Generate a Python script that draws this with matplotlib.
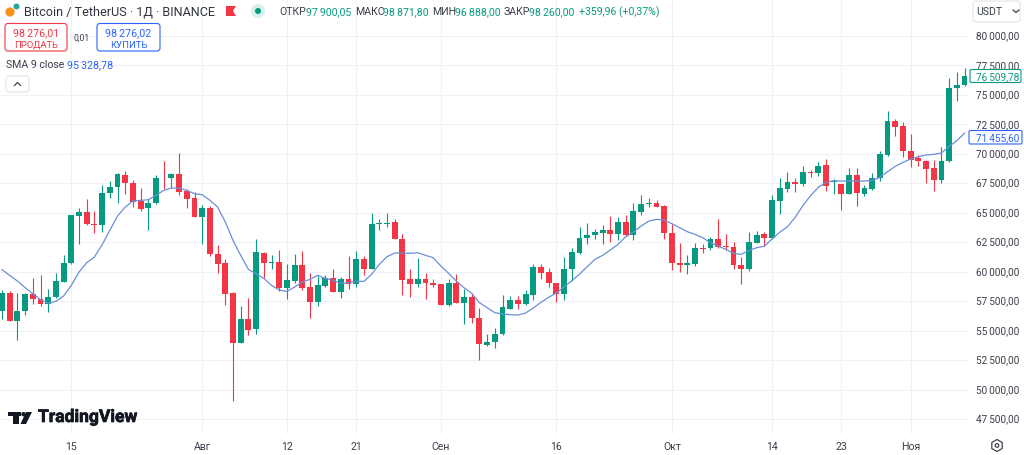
import matplotlib
matplotlib.use('Agg')
import matplotlib.pyplot as plt
import matplotlib.patheffects as pe
from matplotlib.transforms import ScaledTranslation
from matplotlib.patches import FancyBboxPatch, Circle, Polygon, RegularPolygon, Rectangle

plt.rcParams['font.family'] = ['Roboto', 'DejaVu Sans']

GREEN = '#089981'
RED = '#F23645'
BLUE = '#2962FF'
SMA_COLOR = '#6a8fd8'
GRID = '#eff1f6'
TEXT = '#3a3e4a'

# daily candles
opens = [56637, 58220, 55818, 56666, 58079, 57711, 57259, 57824, 59124, 60734,
         64717, 65028, 64068, 63983, 66666, 67147, 68220, 67542, 65960, 65367,
         65791, 67966, 67910, 68305, 66808, 66243, 64604, 65423, 61525, 60734,
         58163, 53982, 56016, 55112, 61610, 60762, 60847, 58587, 59209, 60537,
         58672, 57429, 58785, 59463, 58305, 59406, 58926, 61101, 60254, 64011,
         64068, 64181, 62796, 59350, 58926, 59350, 59068, 58926, 57203, 59068,
         57344, 57881, 56101, 53785, 54039, 54745, 56864, 57598, 57231, 58022,
         60423, 59943, 59068, 58079, 60198, 61610, 62853, 63079, 63277, 63531,
         63220, 64237, 63079, 65085, 65763, 65819, 65537, 63249, 60762, 60536,
         60678, 62034, 61977, 62740, 62175, 62090, 60565, 60198, 62458, 63195,
         62830, 66017, 67005, 67627, 67401, 68418, 68333, 69039, 67599, 67401,
         66610, 68164, 66610, 67005, 67909, 69887, 72740, 72345, 70254, 69633,
         69350, 68757, 67797, 69350, 75537, 75791]
highs = [58418, 58333, 58220, 58220, 59463, 59689, 58502, 59887, 61440, 64830,
         65395, 66158, 65113, 67373, 67655, 68361, 68503, 67796, 67090, 66186,
         68164, 69379, 68390, 70085, 66977, 66751, 65678, 65537, 62231, 61045,
         58276, 57061, 57768, 62740, 61695, 61412, 61808, 60621, 61525, 61751,
         59858, 59632, 59689, 60254, 59548, 61328, 61751, 61328, 64944, 64435,
         65000, 64435, 63220, 60198, 61130, 59858, 59406, 58983, 59406, 59774,
         58503, 58220, 56920, 54745, 55254, 57994, 57937, 57937, 58446, 60621,
         60621, 60339, 59068, 61243, 62034, 63814, 64096, 63588, 63926, 64718,
         64661, 64774, 65791, 66469, 66215, 66045, 65621, 64011, 62401, 61384,
         62401, 62316, 62966, 64435, 63164, 62514, 61271, 63390, 63447, 63339,
         66500, 67909, 68418, 67909, 68983, 68644, 69322, 69548, 67853, 67401,
         68813, 68757, 67344, 68361, 70254, 73644, 72938, 72655, 71667, 69915,
         69463, 69463, 70593, 76413, 76893, 77232]
lows = [56016, 55818, 54236, 56299, 57231, 57061, 56581, 57768, 59124, 60677,
        62372, 63926, 63277, 63361, 66243, 65847, 66610, 65508, 65141, 63503,
        65762, 67034, 67118, 66469, 65395, 64604, 62316, 61299, 59915, 57146,
        49010, 53982, 54603, 54745, 59491, 60198, 58361, 57655, 59068, 58446,
        56045, 57090, 58729, 58305, 57768, 58559, 58729, 59689, 60254, 63531,
        63785, 62740, 57994, 57853, 58700, 57655, 58729, 57146, 57090, 57344,
        55593, 55621, 52513, 53700, 53559, 54604, 56807, 56807, 57146, 57598,
        59350, 58700, 57429, 57598, 59209, 61497, 62316, 62740, 62316, 62514,
        62655, 63023, 62655, 64802, 65480, 65452, 62797, 60141, 59972, 59774,
        60480, 61610, 61808, 62034, 61836, 60254, 58983, 60056, 62401, 62153,
        62771, 64858, 66779, 66723, 67231, 68051, 68135, 66864, 66582, 65254,
        66553, 65593, 66440, 66949, 67712, 69830, 71469, 69746, 68842, 68983,
        67514, 66836, 67514, 69322, 74435, 75706]
closes = [58220, 55818, 56666, 58079, 57683, 57259, 57852, 59180, 60762, 64774,
          65056, 64068, 63983, 66695, 67175, 68249, 67486, 65904, 65339, 65819,
          67938, 67910, 68305, 66751, 66186, 64604, 65395, 61497, 60677, 58107,
          53982, 56016, 55084, 61666, 60762, 60847, 58587, 59265, 60537, 58587,
          57429, 58841, 59463, 58305, 59406, 58926, 61101, 60254, 64068, 64153,
          64153, 62740, 59293, 58926, 59350, 59011, 58841, 57203, 59068, 57344,
          57881, 56045, 53841, 54068, 54745, 56977, 57598, 57231, 58079, 60423,
          59915, 59011, 58079, 60254, 61667, 62881, 63136, 63362, 63531, 63220,
          64209, 63079, 65113, 65763, 65848, 65508, 63249, 60762, 60536, 60706,
          62034, 61949, 62740, 62118, 62090, 60536, 60254, 62514, 63136, 62830,
          66073, 67062, 67627, 67401, 68418, 68333, 68983, 67288, 67683, 66610,
          68164, 66638, 67090, 67966, 69971, 72740, 72288, 70226, 69463, 69350,
          68700, 67797, 69350, 75565, 75847, 76554]
sma = [60169, 59689, 59208, 58650, 58135, 57626, 57344, 57485, 57937, 58841,
       59971, 60762, 61242, 62288, 63503, 64717, 65480, 65988, 66045, 66101,
       66469, 66892, 67090, 67090, 66892, 66610, 66525, 66045, 65480, 64209,
       62655, 61384, 60197, 59830, 59435, 58841, 58446, 58333, 58700, 59124,
       59350, 59689, 59435, 59265, 59011, 59068, 59180, 59180, 59774, 60621,
       61271, 61582, 61582, 61554, 61610, 61384, 61186, 60480, 59858, 59209,
       58644, 58164, 57373, 56949, 56525, 56415, 56356, 56330, 56500, 56924,
       57407, 57830, 58195, 58703, 59237, 59790, 60423, 61045, 61384, 61836,
       62316, 62966, 63362, 63870, 64294, 64435, 64378, 64068, 63729, 63390,
       63164, 62881, 62458, 62175, 61892, 61553, 61469, 61800, 62034, 62153,
       62771, 63339, 63800, 64604, 65593, 66440, 67146, 67570, 67712, 67683,
       67683, 67683, 67683, 67740, 67994, 68474, 68926, 69265, 69548, 69746,
       69887, 69943, 70056, 70621, 71101, 71751]

price_ticks = [80000, 77500, 75000, 72500, 70000, 67500, 65000,
               62500, 60000, 57500, 55000, 52500, 50000, 47500]
date_pos = [9, 26, 37, 46, 57, 72, 87, 100, 109, 118]
date_labels = ['15', 'Авг', '12', '21', 'Сен', '16', 'Окт', '14', '23', 'Ноя']


def money(v):
    return f'{v:,.2f}'.replace(',', '\u2009').replace('.', ',')


fig = plt.figure(figsize=(10.24, 4.56), dpi=100)
ax = fig.add_axes([0, 21 / 456, 968 / 1024, 435 / 456])

idx = list(range(len(closes)))
colors = [GREEN if c >= o else RED for o, c in zip(opens, closes)]
ax.vlines(idx, lows, highs, colors=colors, linewidth=0.8, zorder=2)
ax.bar(idx, [abs(c - o) for o, c in zip(opens, closes)],
       bottom=[min(o, c) for o, c in zip(opens, closes)],
       width=0.76, color=colors, linewidth=0, zorder=3)
ax.plot(idx, sma, color=SMA_COLOR, linewidth=0.9, zorder=4)

ax.set_xlim(-0.26, 125.45)
ax.set_ylim(46245, 83111)
ax.set_xticks(date_pos)
ax.set_xticklabels(date_labels)
ax.set_yticks(price_ticks)
ax.set_yticklabels([money(p) for p in price_ticks])
ax.yaxis.tick_right()
ax.tick_params(axis='y', length=0, pad=6, labelsize=7.2, labelcolor=TEXT)
ax.tick_params(axis='x', length=0, pad=5, labelsize=7.6, labelcolor=TEXT)
# price labels sit a little above their grid lines
shift = ScaledTranslation(0, 1.5 / 100, fig.dpi_scale_trans)
for t in ax.get_yticklabels():
    t.set_transform(t.get_transform() + shift)
ax.grid(True, color=GRID, linewidth=0.8)
ax.set_axisbelow(True)
for s in ax.spines.values():
    s.set_visible(False)

# header and badges go on an overlay in pixel coordinates
ov = fig.add_axes([0, 0, 1, 1], zorder=5)
ov.set_xlim(0, 1024)
ov.set_ylim(456, 0)
ov.axis('off')


def box(x0, y0, x1, y1, edge, r=3, lw=0.8, face='white'):
    ov.add_patch(FancyBboxPatch((x0 + r, y0 + r), x1 - x0 - 2 * r, y1 - y0 - 2 * r,
                                boxstyle=f'round,pad={r},rounding_size={r}',
                                fc=face, ec=edge, lw=lw))


def label(x, y, s, color=TEXT, size=7.6, ha='left', **kw):
    return ov.text(x, y, s, color=color, fontsize=size, ha=ha, va='center', **kw)


# symbol icon
ov.add_patch(Circle((10, 13), 4.6, fc='#f7931a', ec='none'))
ov.add_patch(Circle((16.5, 7.5), 3.0, fc='#26a69a', ec='none'))
label(24, 11.5, 'Bitcoin / TetherUS · 1Д · BINANCE', color='#30343f', size=9.1)
ov.add_patch(Polygon([(226, 7), (236, 7), (233, 12), (236, 17), (226, 17)], fc=RED, ec='none'))
ov.add_patch(Circle((258, 12), 7, fc='#d8f0ec', ec='none'))
ov.add_patch(Circle((258, 12), 3, fc=GREEN, ec='none'))

label(279, 12, 'ОТКР')
label(306, 12, money(97900.05), color=GREEN)
label(355, 12, 'МАКС')
label(383, 12, money(98871.80), color=GREEN)
label(432, 12, 'МИН')
label(455, 12, money(96888.00), color=GREEN)
label(504, 12, 'ЗАКР')
label(529, 12, money(98260.00), color=GREEN)
label(579, 12, '+359,96 (+0,37%)', color=GREEN)

box(5, 24.5, 67, 52, RED)
label(36, 33, money(98276.01), color=RED, size=7.7, ha='center')
label(36, 45, 'ПРОДАТЬ', color=RED, size=6.8, ha='center')
label(82, 38.5, '0,01', size=6.2, ha='center')
box(97, 24.5, 160, 52, BLUE)
label(128.5, 33, money(98276.02), color=BLUE, size=7.7, ha='center')
label(128.5, 45, 'КУПИТЬ', color=BLUE, size=6.8, ha='center')

label(6, 65, 'SMA 9 close', size=7.6)
label(67, 65, money(95328.78), color=BLUE, size=7.7)

box(6, 77, 29, 93, '#e0e3eb')
ov.plot([14.5, 17.5, 20.5], [86.5, 83.5, 86.5], color='#40444f', lw=0.9)

box(973, 2, 1020, 23, '#e0e3eb')
label(976, 12, 'USDT', size=7.6)
ov.plot([1013, 1016, 1019], [11, 13.5, 11], color='#40444f', lw=0.9)

# last value badges on the price scale
box(970, 70.5, 1021, 83.5, GREEN, r=1.5)
label(976, 77.2, money(76509.78), color=GREEN, size=7.2)
box(969, 131.5, 1022, 145, BLUE, r=1.5)
label(976, 138.2, money(71455.60), color=BLUE, size=7.2)

# TradingView mark
ov.add_patch(Rectangle((8, 413), 12.5, 4, fc='#131722', ec='none'))
ov.add_patch(Rectangle((13, 413), 6, 12, fc='#131722', ec='none'))
ov.add_patch(Circle((23.5, 415.2), 2.2, fc='#131722', ec='none'))
ov.add_patch(Polygon([(26, 413), (32, 413), (26, 425), (20.5, 425)], fc='#131722', ec='none'))
logo = label(38, 418.5, 'TradingView', color='#131722', size=12.6, fontweight='bold')
logo.set_path_effects([pe.withStroke(linewidth=0.5, foreground='#131722')])

# settings icon
ov.add_patch(RegularPolygon((997, 446.5), 6, radius=6, fc='none', ec='#40444f', lw=0.9))
ov.add_patch(Circle((997, 446.5), 1.8, fc='none', ec='#40444f', lw=0.9))

fig.savefig('out.png', dpi=100)
